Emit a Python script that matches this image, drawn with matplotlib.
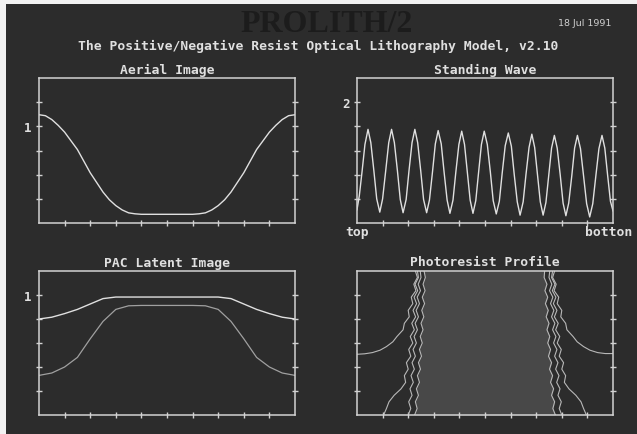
import matplotlib
matplotlib.use('Agg')
import matplotlib.pyplot as plt
from matplotlib.patches import Rectangle

# ---------------- data ----------------
aerial_x = [0, 0.25, 0.5, 0.75, 1.0, 1.25, 1.5, 1.75, 2.0, 2.25, 2.5, 2.75, 3.0, 3.25, 3.5, 3.75, 4.0,
            4.5, 5.0, 5.5, 6.0, 6.25, 6.5, 6.75, 7.0, 7.25, 7.5, 7.75, 8.0, 8.25, 8.5, 8.75, 9.0, 9.25,
            9.5, 9.75, 10.0]
aerial_y = [1.12, 1.11, 1.07, 1.01, 0.94, 0.85, 0.76, 0.64, 0.52, 0.42, 0.32, 0.24, 0.18, 0.135, 0.105,
            0.095, 0.09, 0.09, 0.09, 0.09, 0.09, 0.095, 0.105, 0.135, 0.18, 0.24, 0.32, 0.42, 0.52, 0.64,
            0.76, 0.85, 0.94, 1.01, 1.07, 1.11, 1.12]

wave_x = [0.00, 0.09, 0.20, 0.31, 0.43, 0.54, 0.66, 0.77, 0.89, 1.00, 1.12, 1.24, 1.35, 1.46, 1.58, 1.69,
          1.80, 1.92, 2.03, 2.15, 2.26, 2.37, 2.49, 2.60, 2.72, 2.83, 2.95, 3.06, 3.17, 3.29, 3.40, 3.52,
          3.63, 3.75, 3.86, 3.98, 4.09, 4.20, 4.31, 4.42, 4.53, 4.64, 4.75, 4.86, 4.97, 5.09, 5.21, 5.32,
          5.44, 5.56, 5.67, 5.79, 5.91, 6.03, 6.14, 6.26, 6.37, 6.49, 6.60, 6.72, 6.83, 6.94, 7.05, 7.16,
          7.27, 7.38, 7.49, 7.60, 7.71, 7.82, 7.94, 8.05, 8.16, 8.27, 8.39, 8.50, 8.61, 8.73, 8.85, 8.97,
          9.09, 9.21, 9.33, 9.45, 9.57, 9.68, 9.79, 9.90, 10.00]
wave_y = [0.22, 0.45, 0.86, 1.30, 1.55, 1.33, 0.86, 0.40, 0.18, 0.40, 0.86, 1.33, 1.55, 1.33, 0.86, 0.39,
          0.17, 0.39, 0.86, 1.33, 1.55, 1.33, 0.86, 0.39, 0.17, 0.38, 0.85, 1.31, 1.53, 1.31, 0.85, 0.38,
          0.16, 0.38, 0.84, 1.30, 1.52, 1.30, 0.84, 0.38, 0.16, 0.37, 0.84, 1.30, 1.52, 1.30, 0.84, 0.37,
          0.15, 0.36, 0.82, 1.28, 1.49, 1.27, 0.81, 0.35, 0.13, 0.35, 0.80, 1.25, 1.47, 1.25, 0.80, 0.35,
          0.13, 0.34, 0.79, 1.24, 1.45, 1.24, 0.79, 0.33, 0.12, 0.33, 0.78, 1.24, 1.45, 1.23, 0.78, 0.32,
          0.10, 0.32, 0.78, 1.23, 1.45, 1.24, 0.79, 0.36, 0.20]

pac_x = [0, 0.5, 1.0, 1.5, 2.0, 2.5, 3.0, 3.5, 4.0, 4.5, 5.0, 5.5, 6.0, 6.5, 7.0, 7.5, 8.0, 8.5, 9.0, 9.5, 10.0]
pac_top = [0.80, 0.815, 0.845, 0.88, 0.925, 0.97, 0.983, 0.983, 0.983, 0.983, 0.983, 0.983, 0.983,
           0.983, 0.983, 0.97, 0.925, 0.88, 0.845, 0.815, 0.80]
pac_bottom = [0.33, 0.35, 0.40, 0.48, 0.635, 0.78, 0.88, 0.91, 0.913, 0.913, 0.913, 0.913, 0.913,
              0.91, 0.88, 0.78, 0.635, 0.48, 0.40, 0.35, 0.33]

profile_y = [0.0, 0.27, 0.55, 0.82, 1.09, 1.36, 1.64, 1.91, 2.18, 2.45, 2.73, 3.0, 3.27, 3.55, 3.82,
             4.09, 4.36, 4.64, 4.91, 5.18, 5.45, 5.73, 6.0]
left_edge = [2.25, 2.35, 2.28, 2.40, 2.32, 2.44, 2.36, 2.48, 2.40, 2.52, 2.44, 2.55, 2.47, 2.58, 2.50,
             2.61, 2.53, 2.64, 2.55, 2.66, 2.58, 2.67, 2.62]
right_edge = [7.75, 7.65, 7.72, 7.60, 7.68, 7.56, 7.64, 7.52, 7.60, 7.48, 7.56, 7.45, 7.53, 7.42, 7.50,
              7.39, 7.47, 7.36, 7.45, 7.34, 7.42, 7.31, 7.33]
left_c = [2.00, 2.10, 2.02, 2.15, 2.07, 2.20, 2.11, 2.24, 2.15, 2.28, 2.19, 2.32, 2.23, 2.36, 2.27,
          2.40, 2.31, 2.44, 2.35, 2.48, 2.39, 2.50, 2.47]
right_c = [8.00, 7.90, 7.98, 7.85, 7.93, 7.80, 7.89, 7.76, 7.85, 7.72, 7.81, 7.68, 7.77, 7.64, 7.73,
           7.60, 7.69, 7.56, 7.65, 7.52, 7.61, 7.50, 7.53]
left_b = [1.04, 1.15, 1.25, 1.45, 1.72, 1.90, 1.85, 2.00, 1.93, 2.10, 2.02, 2.18, 2.08, 2.24, 2.14,
          2.29, 2.19, 2.33, 2.23, 2.37, 2.27, 2.40, 2.36]
right_b = [8.96, 8.85, 8.75, 8.55, 8.28, 8.10, 8.15, 8.00, 8.07, 7.90, 7.98, 7.82, 7.92, 7.76, 7.86,
           7.71, 7.81, 7.67, 7.77, 7.63, 7.73, 7.60, 7.64]
left_a_x = [2.28, 2.36, 2.22, 2.30, 2.12, 2.18, 2.00, 2.04, 1.85, 1.80, 1.56, 1.40, 1.15, 0.90, 0.60, 0.30, 0.0]
left_a_y = [6.0, 5.73, 5.45, 5.18, 4.91, 4.64, 4.36, 4.09, 3.82, 3.55, 3.27, 3.05, 2.85, 2.70, 2.60, 2.55, 2.53]
right_a_x = [7.72, 7.64, 7.78, 7.70, 7.88, 7.82, 8.00, 7.96, 8.15, 8.20, 8.44, 8.60, 8.85, 9.10, 9.40, 9.70, 10.0]
right_a_y = [6.0, 5.73, 5.45, 5.18, 4.91, 4.64, 4.36, 4.09, 3.82, 3.55, 3.27, 3.05, 2.85, 2.70, 2.60, 2.56, 2.56]

x_ticks = [1, 2, 3, 4, 5, 6, 7, 8, 9]
aerial_yticks = [0.25, 0.5, 0.75, 1.0, 1.25]
aerial_ylabels = ['', '', '', '1', '']
wave_yticks = [0.4, 0.8, 1.2, 1.6, 2.0]
wave_ylabels = ['', '', '', '', '2']
pac_yticks = [0.2, 0.4, 0.6, 0.8, 1.0]
pac_ylabels = ['', '', '', '', '1']
prof_yticks = [1, 2, 3, 4, 5]
prof_ylabels = ['', '', '', '', '']

# ---------------- style ----------------
BG = '#2c2c2c'
FRAME = '#d2d2d2'
LINE = '#e0e0e0'
TXT = '#e0e0e0'
MONO = 'DejaVu Sans Mono'

W, H = 637, 435
fig = plt.figure(figsize=(W / 100, H / 100), dpi=100, facecolor=BG)

# white scan margins
fig.patches.append(Rectangle((0, 1 - 5 / H), 1, 5 / H, transform=fig.transFigure,
                             facecolor='#f2f2f2', edgecolor='none', zorder=0))
fig.patches.append(Rectangle((0, 0), 6 / W, 1, transform=fig.transFigure,
                             facecolor='#f2f2f2', edgecolor='none', zorder=0))


def make_ax(left, top, right, bottom, xlim, ylim, yticks, ylabels):
    ax = fig.add_axes([left / W, 1 - bottom / H, (right - left) / W, (bottom - top) / H])
    ax.set_facecolor(BG)
    ax.set_xlim(*xlim)
    ax.set_ylim(*ylim)
    for s in ax.spines.values():
        s.set_color(FRAME)
        s.set_linewidth(1.1)
    ax.set_xticks(x_ticks)
    ax.set_xticklabels([])
    ax.set_yticks(yticks)
    ax.set_yticklabels(ylabels)
    ax.tick_params(axis='y', left=True, right=True, direction='inout', length=5, width=1.0,
                   color=FRAME, labelcolor=TXT, labelsize=9, pad=3)
    ax.tick_params(axis='x', bottom=True, top=False, direction='inout', length=4.5, width=1.0,
                   color=FRAME)
    for lab in ax.get_yticklabels():
        lab.set_fontfamily(MONO)
        lab.set_fontweight('bold')
    return ax


ax1 = make_ax(39, 79, 295, 224, (0, 10), (0, 1.5), aerial_yticks, aerial_ylabels)
ax1.plot(aerial_x, aerial_y, color=LINE, lw=1.0)

ax2 = make_ax(357, 79, 613, 224, (0, 10), (0, 2.4), wave_yticks, wave_ylabels)
ax2.plot(wave_x, wave_y, color=LINE, lw=1.0)

ax3 = make_ax(39, 272, 295, 416, (0, 10), (0, 1.2), pac_yticks, pac_ylabels)
ax3.plot(pac_x, pac_top, color=LINE, lw=1.0)
ax3.plot(pac_x, pac_bottom, color='#a0a0a0', lw=0.9)

ax4 = make_ax(357, 272, 613, 416, (0, 10), (0, 6), prof_yticks, prof_ylabels)
ax4.fill_betweenx(profile_y, left_edge, right_edge, color='#484848', lw=0)
for xs in (left_edge, right_edge, left_c, right_c, left_b, right_b):
    ax4.plot(xs, profile_y, color='#b8b8b8', lw=0.8)
ax4.plot(left_a_x, left_a_y, color='#b8b8b8', lw=0.8)
ax4.plot(right_a_x, right_a_y, color='#b8b8b8', lw=0.8)

# ---------------- texts ----------------
def ftext(x, y, s, **kw):
    fig.text(x / W, 1 - y / H, s, **kw)


ftext(327, 25, 'PROLITH/2', ha='center', va='center', color='#1c1c1c', fontsize=23,
      family='Liberation Serif', fontweight='bold')
ftext(585, 23, '18 Jul 1991', ha='center', va='center', color='#d0d0d0', fontsize=6.8,
      family='DejaVu Sans')
ftext(318, 46, 'The Positive/Negative Resist Optical Lithography Model, v2.10', ha='center',
      va='center', color=TXT, fontsize=9.4, family=MONO, fontweight='bold')
ftext(167, 70, 'Aerial Image', ha='center', va='center', color=TXT, fontsize=9.4, family=MONO,
      fontweight='bold')
ftext(485, 70, 'Standing Wave', ha='center', va='center', color=TXT, fontsize=9.4, family=MONO,
      fontweight='bold')
ftext(167, 264, 'PAC Latent Image', ha='center', va='center', color=TXT, fontsize=9.4, family=MONO,
      fontweight='bold')
ftext(485, 263, 'Photoresist Profile', ha='center', va='center', color=TXT, fontsize=9.4, family=MONO,
      fontweight='bold')
ftext(357, 233, 'top', ha='center', va='center', color=TXT, fontsize=9.4, family=MONO,
      fontweight='bold')
ftext(609, 233, 'botton', ha='center', va='center', color=TXT, fontsize=9.4, family=MONO,
      fontweight='bold')

fig.savefig('out.png', dpi=100, facecolor=BG)
